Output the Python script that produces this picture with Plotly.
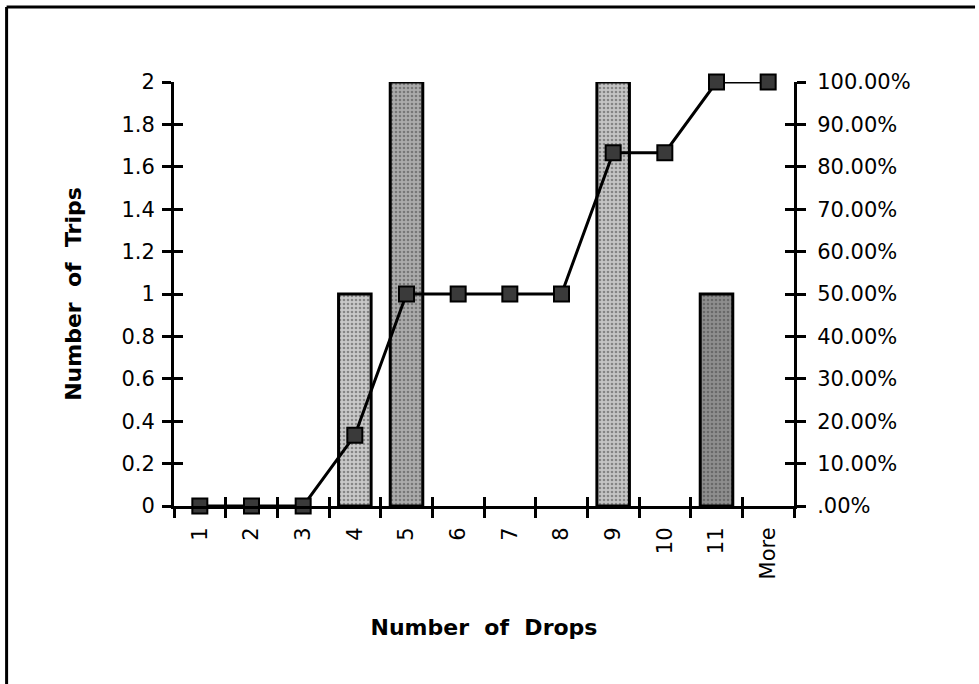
import plotly.graph_objects as go

# ---- data ----
categories = ["1", "2", "3", "4", "5", "6", "7", "8", "9", "10", "11", "More"]
frequency = [0, 0, 0, 1, 2, 0, 0, 0, 2, 0, 1, 0]
cumulative_pct = [0.0, 0.0, 0.0, 0.1667, 0.5, 0.5, 0.5, 0.5, 0.8333, 0.8333, 1.0, 1.0]

left_tickvals = [0, 0.2, 0.4, 0.6, 0.8, 1, 1.2, 1.4, 1.6, 1.8, 2]
left_ticktext = ["0", "0.2", "0.4", "0.6", "0.8", "1", "1.2", "1.4", "1.6", "1.8", "2"]
right_tickvals = [0, 0.1, 0.2, 0.3, 0.4, 0.5, 0.6, 0.7, 0.8, 0.9, 1.0]
right_ticktext = [".00%", "10.00%", "20.00%", "30.00%", "40.00%", "50.00%",
                  "60.00%", "70.00%", "80.00%", "90.00%", "100.00%"]

# ---- style ----
bar_fill = ["#cfcfcf", "#cfcfcf", "#cfcfcf", "#c9c9c9", "#ababab", "#cfcfcf",
            "#cfcfcf", "#cfcfcf", "#c4c4c4", "#cfcfcf", "#8e8e8e", "#cfcfcf"]
bar_dots = ["#8a8a8a", "#8a8a8a", "#8a8a8a", "#8a8a8a", "#6e6e6e", "#8a8a8a",
            "#8a8a8a", "#8a8a8a", "#808080", "#8a8a8a", "#555555", "#8a8a8a"]
FONT = "DejaVu Sans, Liberation Sans, Arial, sans-serif"
tickfont = dict(family=FONT, size=21, color="black")
titlefont = dict(family=FONT, size=22, color="black", weight="bold")

# zero-count bins draw no bar
bar_heights = [v if v > 0 else None for v in frequency]

fig = go.Figure()

fig.add_trace(go.Bar(
    x=categories, y=bar_heights, width=0.63,
    marker=dict(color=bar_fill, line=dict(color="black", width=3),
                pattern=dict(shape=".", fgcolor=bar_dots, bgcolor=bar_fill,
                             size=4, solidity=0.35)),
    xaxis="x", yaxis="y", showlegend=False, hoverinfo="x+y",
))

fig.add_trace(go.Scatter(
    x=categories, y=cumulative_pct, mode="lines+markers",
    line=dict(color="black", width=3),
    marker=dict(symbol="square", size=15, color="#3a3a3a",
                line=dict(color="black", width=2)),
    xaxis="x", yaxis="y2", showlegend=False, cliponaxis=False,
))

# invisible helper traces so overlay axes carry inward tick marks
fig.add_trace(go.Scatter(x=categories, y=frequency, mode="markers",
                         marker=dict(opacity=0), xaxis="x2", yaxis="y3",
                         showlegend=False, hoverinfo="skip"))
fig.add_trace(go.Scatter(x=categories, y=cumulative_pct, mode="markers",
                         marker=dict(opacity=0), xaxis="x2", yaxis="y4",
                         showlegend=False, hoverinfo="skip"))

common_x = dict(type="category", categoryorder="array", categoryarray=categories,
                range=[-0.5, len(categories) - 0.5], tickson="boundaries",
                ticklen=9, tickwidth=3, tickcolor="black", showgrid=False,
                zeroline=False)

fig.update_layout(
    width=979, height=684,
    margin=dict(l=174, r=185, t=82, b=178),
    paper_bgcolor="white", plot_bgcolor="white",
    xaxis=dict(**common_x, ticks="outside", showline=True, linecolor="black",
               linewidth=3, tickangle=-90, tickfont=tickfont, ticklabelstandoff=10,
               title=dict(text="Number  of  Drops", font=titlefont, standoff=42)),
    xaxis2=dict(**common_x, ticks="inside", overlaying="x", side="bottom",
                showline=False, showticklabels=False),
    yaxis=dict(range=[0, 2], tickvals=left_tickvals, ticktext=left_ticktext,
               ticks="outside", ticklen=9, tickwidth=3, tickcolor="black",
               showline=True, linecolor="black", linewidth=3, showgrid=False,
               zeroline=False, tickfont=tickfont, ticklabelstandoff=3,
               title=dict(text="Number  of  Trips", font=titlefont, standoff=34)),
    yaxis2=dict(range=[0, 1], tickvals=right_tickvals, ticktext=right_ticktext,
                overlaying="y", side="right", ticks="outside", ticklen=9,
                tickwidth=3, tickcolor="black", showline=True, linecolor="black",
                linewidth=3, showgrid=False, zeroline=False, tickfont=tickfont,
                ticklabelstandoff=7),
    yaxis3=dict(range=[0, 2], tickvals=left_tickvals, overlaying="y", side="left",
                ticks="inside", ticklen=9, tickwidth=3, tickcolor="black",
                showticklabels=False, showline=False, showgrid=False, zeroline=False),
    yaxis4=dict(range=[0, 1], tickvals=right_tickvals, overlaying="y", side="right",
                ticks="inside", ticklen=9, tickwidth=3, tickcolor="black",
                showticklabels=False, showline=False, showgrid=False, zeroline=False),
    shapes=[
        dict(type="line", xref="paper", yref="paper", x0=-0.27, x1=1.292,
             y0=1.177, y1=1.177, line=dict(color="black", width=3)),
        dict(type="line", xref="paper", yref="paper", x0=-0.27, x1=-0.27,
             y0=1.177, y1=-0.42, line=dict(color="black", width=3)),
    ],
)

fig.write_html("out.html")
